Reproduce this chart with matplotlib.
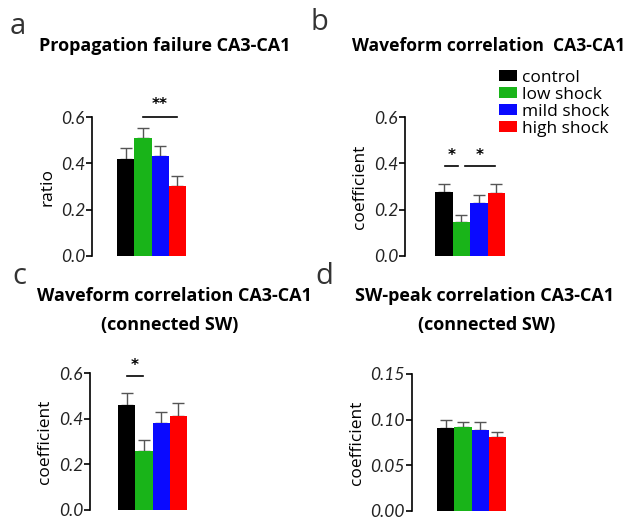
import matplotlib
matplotlib.use("Agg")
import matplotlib.pyplot as plt
from matplotlib.patches import Patch
import numpy as np

W, H = 627, 518
DPI = 100

groups = ["control", "low shock", "mild shock", "high shock"]
colors = ["#000000", "#19b419", "#0a0aff", "#ff0000"]

prop_fail = [0.42, 0.512, 0.432, 0.302]
prop_fail_err = [0.047, 0.042, 0.044, 0.043]

wave_corr = [0.276, 0.146, 0.230, 0.271]
wave_corr_err = [0.036, 0.033, 0.034, 0.038]

wave_conn = [0.461, 0.258, 0.384, 0.414]
wave_conn_err = [0.051, 0.051, 0.048, 0.054]

peak_conn = [0.0904, 0.092, 0.0886, 0.0805]
peak_conn_err = [0.0096, 0.0057, 0.0087, 0.0062]

title_font = dict(family="Open Sans", weight="bold", size=13)
tick_font = ["Lato", "DejaVu Sans"]

fig = plt.figure(figsize=(W / DPI, H / DPI), dpi=DPI)


def make_ax(spine, barL, barR, top, bottom):
    u = (barR - barL) / 4.0
    xl = -0.5 - (barL - spine) / u
    xr = 3.65
    width = (xr - xl) * u
    ax = fig.add_axes([spine / W, 1 - bottom / H, width / W, (bottom - top) / H])
    ax.set_xlim(xl, xr)
    return ax


def draw(ax, vals, errs, ymax, yticks, fmt, ylabel, labelpad):
    x = np.arange(len(vals))
    ax.bar(x, vals, width=1.0, color=colors, edgecolor="none", zorder=2)
    ax.errorbar(x, vals, yerr=[np.zeros(len(vals)), errs], fmt="none",
                ecolor="#555555", elinewidth=1.0, capsize=4, capthick=1.0, zorder=1)
    ax.set_ylim(0, ymax)
    ax.set_yticks(yticks)
    ax.set_yticklabels([fmt.format(t) for t in yticks], fontstyle="italic",
                       family=tick_font, fontsize=12.5, color="#222222")
    for s in ["top", "right", "bottom"]:
        ax.spines[s].set_visible(False)
    ax.spines["left"].set_linewidth(1.2)
    ax.tick_params(axis="y", length=4, width=1.2, pad=1)
    ax.set_xticks([])
    ax.set_ylabel(ylabel, family="Open Sans", fontsize=12.5, labelpad=labelpad)


def sig(ax, x0, x1, y, ystar, text):
    ax.plot([x0, x1], [y, y], color="black", lw=1.2, clip_on=False)
    ax.text((x0 + x1) / 2, ystar, text, ha="center", va="center",
            fontsize=11, fontweight="bold", clip_on=False)


# panel a
axa = make_ax(92, 117, 186, 117.3, 255.7)
draw(axa, prop_fail, prop_fail_err, 0.6, [0.0, 0.2, 0.4, 0.6], "{:.1f}", "ratio", 4)
sig(axa, 1.0, 3.0, 0.6, 0.655, "**")

# panel b
axb = make_ax(405, 435, 505, 117, 256)
draw(axb, wave_corr, wave_corr_err, 0.6, [0.0, 0.2, 0.4, 0.6], "{:.1f}", "coefficient", 4)
sig(axb, 0.07, 0.8, 0.39, 0.435, "*")
sig(axb, 1.2, 2.93, 0.39, 0.435, "*")

# panel c
axc = make_ax(90, 118, 187, 373.3, 510)
draw(axc, wave_conn, wave_conn_err, 0.6, [0.0, 0.2, 0.4, 0.6], "{:.1f}", "coefficient", 4)
sig(axc, 0.0, 0.97, 0.59, 0.635, "*")

# panel d
axd = make_ax(411.7, 437, 506, 374, 510.7)
draw(axd, peak_conn, peak_conn_err, 0.15, [0.0, 0.05, 0.10, 0.15], "{:.2f}", "coefficient", 4)

# titles
fig.text(165 / W, 1 - 46 / H, "Propagation failure CA3-CA1", ha="center", va="center", **title_font)
fig.text(489 / W, 1 - 46 / H, "Waveform correlation  CA3-CA1", ha="center", va="center",
         **dict(title_font, size=12.6))
fig.text(174 / W, 1 - 296 / H, "Waveform correlation CA3-CA1", ha="center", va="center", **title_font)
fig.text(170 / W, 1 - 325 / H, "(connected SW)", ha="center", va="center", **title_font)
fig.text(485 / W, 1 - 296 / H, "SW-peak correlation CA3-CA1", ha="center", va="center", **title_font)
fig.text(487 / W, 1 - 325 / H, "(connected SW)", ha="center", va="center", **title_font)

# panel letters
letter_font = dict(family="Open Sans", size=21, color="#333333")
fig.text(18 / W, 1 - 26 / H, "a", ha="center", va="center", **letter_font)
fig.text(319 / W, 1 - 22 / H, "b", ha="center", va="center", **letter_font)
fig.text(19 / W, 1 - 276 / H, "c", ha="center", va="center", **letter_font)
fig.text(324 / W, 1 - 276 / H, "d", ha="center", va="center", **letter_font)

# legend
handles = [Patch(facecolor=c, edgecolor="none") for c in colors]
fig.legend(handles, groups, loc="upper left", bbox_to_anchor=(499 / W, 1 - 70 / H),
           frameon=False, prop=dict(family="Open Sans", size=12.5),
           handlelength=1.05, handleheight=0.6, handletextpad=0.3,
           labelspacing=0.05, borderpad=0, borderaxespad=0)

fig.savefig("out.png", dpi=DPI)
